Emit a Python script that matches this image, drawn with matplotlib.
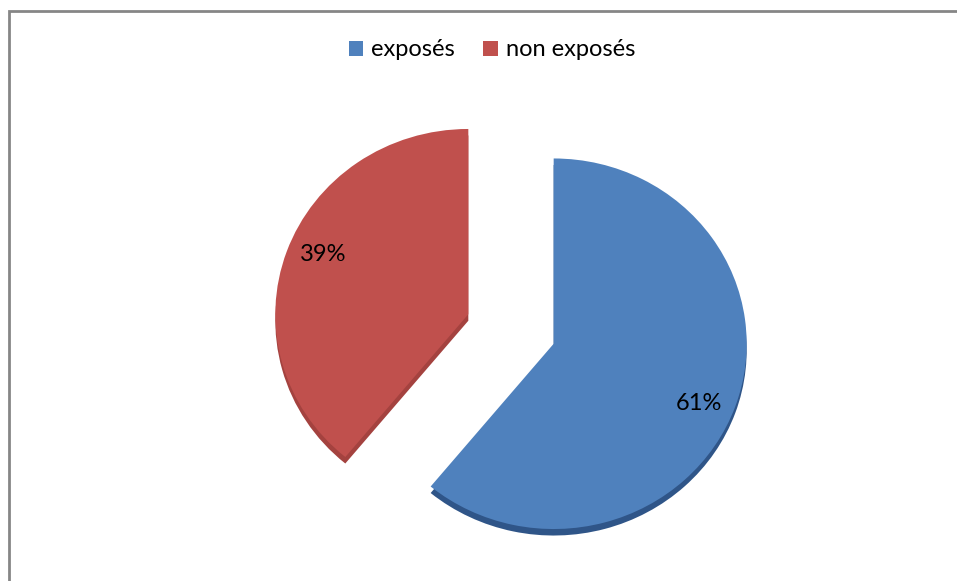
import matplotlib.pyplot as plt
from matplotlib.lines import Line2D
from matplotlib.patches import Patch

labels = ['exposés', 'non exposés']
values = [61, 39]
colors = ['#4F81BD', '#C0504D']
side_colors = ['#2F5588', '#A4423F']

plt.rcParams['font.family'] = ['Lato', 'DejaVu Sans']

W, H = 957, 581
fig = plt.figure(figsize=(W / 100, H / 100), dpi=100)
ax = fig.add_axes([0, 0, 1, 1])

# pie laid out in pixel units; slight vertical squash for the tilted look
sy = 0.96
cx, cy = 511, (H - 329) / sy
r = 193
expl = [0.235 * r] * len(values)
depth = 6.5 / sy

# darker copy underneath, shifted down, gives the thickness of the disc
ax.pie(values, colors=side_colors, startangle=90, counterclock=False,
       radius=r, center=(cx, cy - depth), explode=expl, frame=True,
       wedgeprops=dict(linewidth=0))
wedges, texts, autotexts = ax.pie(
    values, colors=colors, startangle=90, counterclock=False,
    radius=r, center=(cx, cy), explode=expl, frame=True,
    autopct='%1.0f%%', pctdistance=0.8,
    wedgeprops=dict(linewidth=0),
    textprops=dict(fontsize=17, color='black'))

# push the percentage labels a bit further out vertically
for w, t in zip(wedges, autotexts):
    x, y = t.get_position()
    wx, wy = w.center
    t.set_position((x, wy + (y - wy) * 1.2))

ax.set_aspect('auto')
ax.set_xlim(0, W)
ax.set_ylim(0, H / sy)
ax.axis('off')

handles = [Patch(facecolor=c, edgecolor='none') for c in colors]
fig.legend(handles, labels, loc='center', bbox_to_anchor=(492 / W, 1 - 50 / H),
           ncol=2, frameon=False, fontsize=17, handlelength=0.6,
           handleheight=0.6, handletextpad=0.35, columnspacing=1.2)

# chart area border: only the top and left edges fall inside the image
bx, by = 8.5 / W, 1 - 10.5 / H
fig.add_artist(Line2D([bx, bx, 1.0], [0.0, by, by], transform=fig.transFigure,
                      color='#868686', linewidth=2, solid_joinstyle='miter'))

fig.savefig('out.png', dpi=100)
